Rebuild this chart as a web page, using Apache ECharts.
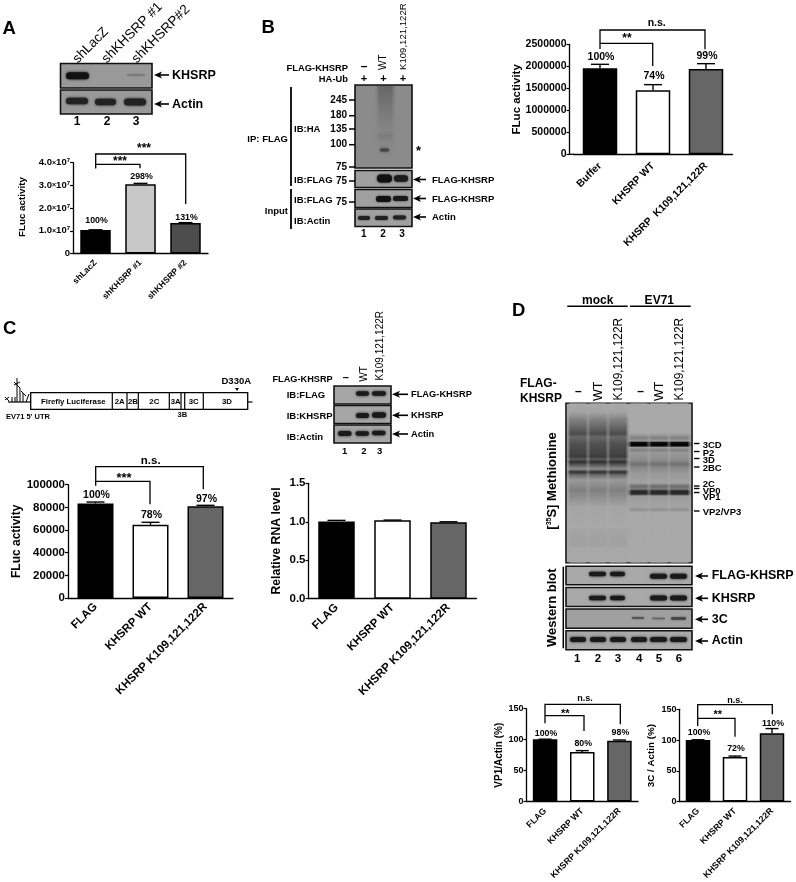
<!DOCTYPE html>
<html>
<head>
<meta charset="utf-8">
<title>KHSRP figure</title>
<script src="https://cdn.jsdelivr.net/npm/echarts@6/dist/echarts.min.js"></script>
<style>
html, body { margin: 0; padding: 0; background: #fff; }
#chart { width: 796px; height: 882px; }
</style>
</head>
<body>
<div id="chart"></div>
<script>
// panel A
const catA = ['shLacZ', 'shKHSRP #1', 'shKHSRP #2']
const valA = [10300000, 30500000, 13400000]
const errA = [10450000, 30900000, 13600000]
const pctA = ['100%', '298%', '131%']
// panel B
const catB = ['Buffer', 'KHSRP WT', 'KHSRP  K109,121,122R']
const valB = [1955000, 1455000, 1940000]
const errB = [2045000, 1583000, 2060000]
const pctB = ['100%', '74%', '99%']
// panel C, luciferase
const catC = ['FLAG', 'KHSRP WT', 'KHSRP K109,121,122R']
const valC = [83500, 64700, 80900]
const errC = [84700, 66800, 81800]
const pctC = ['100%', '78%', '97%']
// panel C, RNA
const valRna = [1.005, 1.02, 0.993]
const errRna = [1.018, 1.022, 1.0]
// panel D
const valVp1 = [100.5, 80, 98.4]
const errVp1 = [100.8, 82.3, 99.5]
const pctVp1 = ['100%', '80%', '98%']
const val3c = [100.2, 72.3, 111]
const err3c = [100.5, 74, 118.7]
const pct3c = ['100%', '72%', '110%']

const FONT = '"Liberation Sans", Arial, sans-serif'
const BLACK = '#000'
const GREY_D = '#666'

// bar panels
const panels = [
  { cats: catA, vals: valA, errs: errA, pcts: pctA, gaps: [9, 6.3, 5.5], colors: [BLACK, '#c8c8c8', '#4d4d4d'],
    left: 73, top: 162.7, width: 135, height: 90.8, max: 40000000, interval: 10000000, barW: 30.5, cap: 14,
    tickSize: 9.5, catSize: 8.5, catMargin: 8, pctSize: 8.8, name: 'FLuc activity', nameSize: 9.8, nameX: 22.7, sci: true },
  { cats: catB, vals: valB, errs: errB, pcts: pctB, gaps: [7, 8.7, 7.7], colors: [BLACK, '#fff', GREY_D],
    left: 573.5, top: 44.3, width: 159, height: 110, max: 2500000, interval: 500000, barW: 34.5, cap: 18, yOffset: 4,
    tickSize: 10.5, catSize: 10.3, catMargin: 10, pctSize: 10.5, name: 'FLuc activity', nameSize: 11.5, nameX: 517 },
  { cats: catC, vals: valC, errs: errC, pcts: pctC, gaps: [6.6, 7.3, 6.3], colors: [BLACK, '#fff', GREY_D],
    left: 68, top: 484.7, width: 165, height: 113.3, max: 100000, interval: 20000, barW: 36, cap: 18,
    tickSize: 11.5, catSize: 11.5, catMargin: 7, pctSize: 10.5, name: 'FLuc activity', nameSize: 12, nameX: 17 },
  { cats: catC, vals: valRna, errs: errRna, pcts: ['', '', ''], gaps: [0, 0, 0], colors: [BLACK, '#fff', GREY_D],
    left: 308.5, top: 483.3, width: 168, height: 115.4, max: 1.5, interval: 0.5, barW: 36.5, cap: 18,
    tickSize: 11.5, catSize: 11.5, catMargin: 7, pctSize: 12, name: 'Relative RNA level', nameSize: 12.2, nameX: 276.7, fixed: 1 },
  { cats: catC, vals: valVp1, errs: errVp1, pcts: pctVp1, gaps: [6, 7, 7], colors: [BLACK, '#fff', GREY_D],
    left: 526.5, top: 708.7, width: 111.5, height: 93, max: 150, interval: 50, barW: 24.5, cap: 13,
    tickSize: 9, catSize: 8.8, catMargin: 8, pctSize: 8.8, name: 'VP1/Actin (%)', nameSize: 10, nameX: 499 },
  { cats: catC, vals: val3c, errs: err3c, pcts: pct3c, gaps: [7, 7.3, 4.7], colors: [BLACK, '#fff', GREY_D],
    left: 679.5, top: 709.3, width: 111, height: 92.7, max: 150, interval: 50, barW: 24.5, cap: 13,
    tickSize: 9, catSize: 8.8, catMargin: 8, pctSize: 8.8, name: '3C / Actin (%)', nameSize: 9.8, nameX: 651.7 }
]

const grid = [], xAxis = [], yAxis = [], series = []
panels.forEach(function(p, i) {
  grid.push({ left: p.left, top: p.top, width: p.width, height: p.height })
  xAxis.push({
    type: 'category', gridIndex: i, data: p.cats,
    axisLine: { lineStyle: { color: BLACK, width: 1.3 } },
    axisTick: { alignWithLabel: true, length: 3, lineStyle: { color: BLACK, width: 1.2 } },
    axisLabel: { interval: 0, rotate: 45, margin: p.catMargin, color: BLACK, fontFamily: FONT, fontWeight: 'bold', fontSize: p.catSize }
  })
  yAxis.push({
    type: 'value', gridIndex: i, min: 0, max: p.max, interval: p.interval, offset: p.yOffset || 0,
    splitLine: { show: false },
    axisLine: { show: true, lineStyle: { color: BLACK, width: 1.3 } },
    axisTick: { show: true, length: 3, lineStyle: { color: BLACK, width: 1.2 } },
    axisLabel: {
      margin: 3, color: BLACK, fontFamily: FONT, fontWeight: 'bold', fontSize: p.tickSize,
      formatter: p.sci ? function(v) {
        return v === 0 ? '0' : '{n|' + (v / 1e7).toFixed(1) + '}{x|×}{n|10}{s|7}'
      } : function(v) { return p.fixed ? v.toFixed(p.fixed) : String(v) },
      rich: p.sci ? {
        n: { fontFamily: FONT, fontWeight: 'bold', fontSize: p.tickSize, color: BLACK },
        x: { fontFamily: FONT, fontWeight: 'bold', fontSize: 7, color: BLACK },
        s: { fontFamily: FONT, fontWeight: 'bold', fontSize: 6, color: BLACK, verticalAlign: 'top' }
      } : undefined
    }
  })
  series.push({
    type: 'bar', xAxisIndex: i, yAxisIndex: i, barWidth: p.barW, silent: true, animation: false,
    data: p.vals.map(function(v, k) {
      return { value: v, itemStyle: { color: p.colors[k], borderColor: BLACK, borderWidth: 1.5 } }
    })
  })
  // error bar and percent label, both from the value scale
  series.push({
    type: 'custom', xAxisIndex: i, yAxisIndex: i, silent: true, animation: false, z: 5,
    encode: { x: 0, y: [1, 2] },
    data: p.vals.map(function(v, k) { return [k, v, p.errs[k]] }),
    renderItem: function(params, api) {
      const base = api.coord([api.value(0), api.value(1)])
      const top = api.coord([api.value(0), api.value(2)])
      const k = params.dataIndex
      const ls = { stroke: BLACK, lineWidth: 1.4, fill: null }
      return {
        type: 'group',
        children: [
          { type: 'line', shape: { x1: base[0], y1: base[1], x2: top[0], y2: top[1] }, style: ls },
          { type: 'line', shape: { x1: top[0] - p.cap / 2, y1: top[1], x2: top[0] + p.cap / 2, y2: top[1] }, style: ls },
          { type: 'text', x: top[0] + 1, y: top[1] - p.gaps[k], style: {
            text: p.pcts[k], fill: BLACK, align: 'center', verticalAlign: 'middle',
            font: 'bold ' + p.pctSize + 'px ' + FONT
          } }
        ]
      }
    }
  })
})

// ---- drawing helpers for the annotations and blots
const g = []
function txt(text, x, y, size, o) {
  o = o || {}
  g.push({
    type: 'text', x: x, y: y, rotation: (o.rot || 0) * Math.PI / 180, silent: true, z: 20,
    style: {
      text: text, fill: BLACK, align: o.align || 'left', verticalAlign: 'middle', rich: o.rich,
      font: (o.weight || 'bold') + ' ' + size + 'px ' + FONT
    }
  })
}
function ln(x1, y1, x2, y2, w) {
  g.push({ type: 'line', silent: true, z: 15, shape: { x1: x1, y1: y1, x2: x2, y2: y2 }, style: { stroke: BLACK, lineWidth: w || 1.3 } })
}
function poly(points, w) {
  g.push({ type: 'polyline', silent: true, z: 15, shape: { points: points }, style: { stroke: BLACK, fill: null, lineWidth: w || 1.3 } })
}
// two stacked brackets above a bar chart
function bracket(x0, x1, x2, yOuter, yInner, legL, legOut, legIn) {
  poly([[x0, legL], [x0, yOuter], [x2, yOuter], [x2, legOut]])
  poly([[x0, yInner], [x1, yInner], [x1, legIn]])
}
function arrow(x1, x2, y) {
  ln(x1 + 5, y, x2, y, 1.6)
  g.push({ type: 'polygon', silent: true, z: 15, shape: { points: [[x1, y], [x1 + 8, y - 3.5], [x1 + 6, y], [x1 + 8, y + 3.5]] }, style: { fill: BLACK } })
}
function blot(x, y, w, h, fill) {
  g.push({ type: 'rect', silent: true, z: 1, shape: { x: x, y: y, width: w, height: h }, style: { fill: fill || '#a8a8a8', stroke: '#111', lineWidth: 1.6 } })
}
function band(x1, x2, yc, h, color, blur) {
  g.push({
    type: 'rect', silent: true, z: 3,
    shape: { x: x1, y: yc - h / 2, width: x2 - x1, height: h, r: h / 2 },
    style: { fill: color || '#1a1a1a', shadowBlur: blur === undefined ? 3 : blur, shadowColor: color || '#1a1a1a' }
  })
}
function grad(y0, y1, stops) {
  return {
    type: 'linear', x: 0, y: 0, x2: 0, y2: 1,
    colorStops: stops.map(function(s) {
      return { offset: Math.min(1, Math.max(0, (s[0] - y0) / (y1 - y0))), color: s[1] }
    })
  }
}
// soft edged gel lane
function lane(x1, x2, y0, y1, stops) {
  [[3.5, 0.25], [2.2, 0.3], [1, 0.5], [0, 1]].forEach(function(e) {
    g.push({
      type: 'rect', silent: true, z: 2, shape: { x: x1 - e[0], y: y0, width: x2 - x1 + 2 * e[0], height: y1 - y0 },
      style: { fill: grad(y0, y1, stops), opacity: e[1] }
    })
  })
}

// ---- panel A
txt('A', 2.5, 29, 18.5)
txt('shLacZ', 75, 61, 13.5, { rot: 45, weight: 'normal' })
txt('shKHSRP #1', 104, 61, 13.5, { rot: 45, weight: 'normal' })
txt('shKHSRP#2', 134, 61, 13.5, { rot: 45, weight: 'normal' })
blot(60.5, 63.5, 91.5, 24.5, '#999')
blot(60.5, 90, 91.5, 24, '#999')
band(66, 89, 75.7, 7, '#111')
band(127, 145, 75, 1.5, '#777', 2)
band(66, 88, 101, 6.5, '#222')
band(95, 116, 102, 6.5, '#222')
band(124, 146, 102, 7, '#222')
arrow(154, 169, 75)
arrow(154, 169, 104)
txt('KHSRP', 172, 76, 12.5)
txt('Actin', 172, 105, 12.5)
txt('1', 77, 122, 12, { align: 'center' })
txt('2', 107, 122, 12, { align: 'center' })
txt('3', 136, 122, 12, { align: 'center' })
bracket(95.7, 140, 185.7, 154, 164.3, 168.5, 204, 168.3)
txt('***', 144, 149, 12, { align: 'center' })
txt('***', 120, 162, 12, { align: 'center' })

// ---- panel B blots
txt('B', 261.5, 28, 18.5)
txt('FLAG-KHSRP', 348, 68, 9.4, { align: 'right' })
txt('HA-Ub', 348, 79, 9.4, { align: 'right' })
txt('–', 364, 66.5, 12, { align: 'center' })
txt('+', 364, 79, 11, { align: 'center' })
txt('+', 383.5, 79, 11, { align: 'center' })
txt('+', 403, 79, 11, { align: 'center' })
txt('WT', 383, 70, 10, { rot: 90, weight: 'normal' })
txt('K109,121,122R', 403, 70, 9.6, { rot: 90, weight: 'normal' })
blot(355, 85, 57, 83, '#8b8b8b')
blot(355, 170.5, 57, 17, '#a0a0a0')
blot(355, 189.5, 57, 18, '#a0a0a0')
blot(355, 209, 57, 17.5, '#a0a0a0')
lane(379, 392, 86, 160, [[86, '#666'], [95, '#6e6e6e'], [118, '#7e7e7e'], [130, '#868686'], [136, '#7c7c7c'], [142, '#868686'], [160, '#8b8b8b']])
band(380, 389, 150, 3, '#444', 3)
band(377, 392, 178.5, 8, '#111', 2.5)
band(394, 408, 178.5, 6.5, '#1a1a1a', 2.5)
band(376, 391, 199, 6, '#111', 2)
band(393, 408, 198.5, 5, '#1a1a1a', 2)
band(358, 370, 218, 4, '#222', 2)
band(375, 388, 218, 4, '#222', 2)
band(393, 406, 217.5, 4, '#222', 2)
ln(291, 87, 291, 186, 1.8)
ln(291, 189, 291, 229, 1.8)
txt('IP: FLAG', 288, 139, 9.5, { align: 'right' })
txt('Input', 288, 211, 9.5, { align: 'right' })
txt('IB:HA', 294, 129, 9.5)
txt('IB:FLAG', 294, 180.5, 9.5)
txt('IB:FLAG', 294, 200, 9.5)
txt('IB:Actin', 294, 221, 9.5)
;[['245', 100], ['180', 115.7], ['135', 129], ['100', 144.7], ['75', 167], ['75', 181], ['75', 202]].forEach(function(m) {
  txt(m[0], 347, m[1], 10, { align: 'right' })
  ln(349, m[1], 355, m[1], 1.5)
})
txt('*', 416, 151, 13)
arrow(413, 426, 179.5)
arrow(413, 426, 198.5)
arrow(413, 426, 217)
txt('FLAG-KHSRP', 432, 180, 9.5)
txt('FLAG-KHSRP', 432, 199, 9.5)
txt('Actin', 432, 217, 9.5)
txt('1', 363.7, 234, 10, { align: 'center' })
txt('2', 383, 234, 10, { align: 'center' })
txt('3', 402, 234, 10, { align: 'center' })

// ---- panel B chart notes
ln(569, 154.3, 574, 154.3, 1.3)
bracket(600, 652.7, 705, 30, 43.3, 49, 49.3, 66)
txt('**', 627, 39, 12, { align: 'center' })
txt('n.s.', 656.7, 23, 10.5, { align: 'center' })

// ---- panel C schematic
txt('C', 3, 329, 18.5)
g.push({ type: 'rect', silent: true, z: 3, shape: { x: 30.7, y: 392.7, width: 217, height: 16.6 }, style: { fill: '#fff', stroke: BLACK, lineWidth: 1.3 } })
;[112.3, 127, 138.3, 169.3, 181, 184.7, 203.3].forEach(function(x) { ln(x, 392.7, x, 409.3, 1.2) })
;[['Firefly Luciferase', 73.3], ['2A', 119.7], ['2B', 133], ['2C', 154.3], ['3A', 175.7], ['3C', 193.7], ['3D', 227]].forEach(function(s) {
  txt(s[0], s[1], 401.5, 7.8, { align: 'center' })
})
txt('3B', 182.3, 415, 7.5, { align: 'center' })
txt('D330A', 236.3, 381, 9.5, { align: 'center' })
g.push({ type: 'polygon', silent: true, z: 15, shape: { points: [[235, 388], [239, 388], [237, 391]] }, style: { fill: BLACK } })
txt("EV71 5' UTR", 6, 416.7, 7.5)
ln(8, 402, 31, 402, 1.2)
ln(248, 402, 252.5, 402, 1.2)
ln(17, 378, 17, 402, 1)
ln(14, 385, 20, 382, 1)
ln(14, 382, 20, 388, 1)
ln(20, 402, 20, 388, 1)
ln(23, 402, 23, 393, 1)
ln(21, 391, 26, 396, 1)
ln(26, 402, 29, 394, 1)
ln(5, 400, 9, 397, 1)
ln(5, 397, 9, 401, 1)
ln(12, 402, 12, 397, 1)
ln(15, 402, 15, 397, 1)
bracket(95.7, 150, 203.3, 466.7, 481.3, 485.7, 489.3, 504.3)
txt('***', 124, 478, 13, { align: 'center' })
txt('n.s.', 150.7, 460.7, 11.5, { align: 'center' })

// ---- panel C blots
txt('FLAG-KHSRP', 332.7, 379, 9.2, { align: 'right' })
txt('–', 345.7, 377.5, 11, { align: 'center' })
txt('WT', 364, 381.7, 10, { rot: 90, weight: 'normal' })
txt('K109,121,122R', 380.7, 380.5, 10, { rot: 90, weight: 'normal' })
blot(334, 386, 57, 18, '#a6a6a6')
blot(334, 405.5, 57, 18, '#a6a6a6')
blot(334, 425, 57, 18, '#a6a6a6')
band(356, 369, 393.5, 4.5)
band(372, 386, 393.5, 4.5)
band(356, 369, 415.5, 5)
band(372, 386, 415, 5.5)
band(338, 351.5, 433.5, 5)
band(355.5, 369, 433.5, 4.5)
band(372, 385.5, 433, 4.5)
arrow(392, 408, 394.3)
arrow(392, 408, 415.3)
arrow(392, 408, 434)
txt('IB:FLAG', 286.7, 395.7, 9.5)
txt('IB:KHSRP', 286.7, 416, 9.5)
txt('IB:Actin', 286.7, 437.7, 9.5)
txt('FLAG-KHSRP', 411, 394.5, 9.3)
txt('KHSRP', 411, 415.5, 9.3)
txt('Actin', 411, 434.5, 9.3)
txt('1', 344.7, 451, 9.5, { align: 'center' })
txt('2', 364, 451, 9.5, { align: 'center' })
txt('3', 379.7, 451, 9.5, { align: 'center' })

// ---- panel D gel
txt('D', 512, 311, 18.5)
txt('mock', 597.7, 301, 12, { align: 'center' })
txt('EV71', 659.3, 301, 12, { align: 'center' })
ln(567.3, 306.3, 627.7, 306.3, 1.4)
ln(630, 306.3, 690.7, 306.3, 1.4)
txt('FLAG-', 520, 384, 12)
txt('KHSRP', 520, 399, 12)
;[[578.3, '–'], [640.7, '–']].forEach(function(s) { txt(s[1], s[0], 392, 12, { align: 'center' }) })
;[598.3, 660].forEach(function(x) { txt('WT', x, 401, 12.5, { rot: 90, weight: 'normal' }) })
;[618.3, 680].forEach(function(x) { txt('K109,121,122R', x, 400.5, 11.9, { rot: 90, weight: 'normal' }) })
blot(566, 403.3, 126, 159.4, '#a9a9a9')
const stopsMock = [[403.5, '#a9a9a9'], [412, '#a4a4a4'], [420, '#808080'], [430, '#5c5c5c'], [434, '#4c4c4c'], [437, '#686868'], [444, '#505050'], [453, '#444'], [457, '#3c3c3c'], [459, '#5c5c5c'], [462, '#2e2e2e'], [465, '#5c5c5c'], [469, '#8e8e8e'], [472, '#2e2e2e'], [475, '#6c6c6c'], [480, '#9a9a9a'], [490, '#808080'], [497, '#8e8e8e'], [507, '#a5a5a5'], [527, '#a8a8a8'], [530, '#a4a4a4'], [545, '#a1a1a1'], [549, '#a8a8a8'], [562.5, '#a9a9a9']]
const stopsEv71 = [[403.5, '#a9a9a9'], [433, '#a9a9a9'], [438, '#808080'], [441, '#999'], [442.5, '#111'], [444.5, '#000'], [446, '#111'], [447.5, '#999'], [450, '#808080'], [453, '#999'], [460, '#8c8c8c'], [464, '#707070'], [468, '#8a8a8a'], [473, '#989898'], [483, '#a2a2a2'], [486, '#6c6c6c'], [489, '#7c7c7c'], [491, '#2a2a2a'], [494, '#2a2a2a'], [496, '#9a9a9a'], [507, '#a4a4a4'], [510, '#8e8e8e'], [512, '#a8a8a8'], [562.5, '#a9a9a9']]
;[[570, 586], [590, 606], [610, 626]].forEach(function(l) { lane(l[0], l[1], 403.5, 562.5, stopsMock) })
;[[631, 647], [651, 667], [671, 688]].forEach(function(l) { lane(l[0], l[1], 403.5, 562.5, stopsEv71) })
;[['3CD', 445, 443.5], ['P2', 453, 451.5], ['3D', 460.5, 458.5], ['2BC', 468, 467], ['2C', 484, 486], ['VP0', 491, 488.5], ['VP1', 497.5, 492.5], ['VP2/VP3', 512.5, 511]].forEach(function(s) {
  txt(s[0], 702.7, s[1], 9.5)
  ln(694, s[2], 699.5, s[2], 1.4)
})
txt('[{s|35}S] Methionine', 552, 481, 13, { rot: 90, align: 'center', rich: { s: { font: 'bold 7px ' + FONT, verticalAlign: 'top' } } })
txt('Western blot', 552, 607.7, 13, { rot: 90, align: 'center' })
ln(563.3, 566.7, 563.3, 648.3, 1.5)
blot(566, 566.2, 126, 18.5, '#a9a9a9')
blot(566, 587.5, 126, 19, '#a9a9a9')
blot(566, 609, 126, 19.3, '#a0a0a0')
blot(566, 630.7, 126, 19, '#a9a9a9')
;[[589, 606], [610, 625]].forEach(function(l) { band(l[0], l[1], 574, 4.5); band(l[0], l[1], 598, 4.5) })
;[[650, 667], [670, 687]].forEach(function(l) { band(l[0], l[1], 576.3, 5); band(l[0], l[1], 598, 5) })
band(632, 644, 618, 2, '#555', 2)
band(652, 665, 618.5, 1.5, '#666', 2)
band(671, 686, 618.5, 2.5, '#444', 2)
;[[570, 586], [590, 606], [610, 626], [631, 647], [650, 667], [670, 687]].forEach(function(l) { band(l[0], l[1], 639.5, 5) })
arrow(695, 708, 576)
arrow(695, 708, 598.3)
arrow(695, 708, 619.3)
arrow(695, 708, 641)
txt('FLAG-KHSRP', 711.7, 576, 12.5)
txt('KHSRP', 711.7, 598.3, 12.5)
txt('3C', 711.7, 619.5, 12.5)
txt('Actin', 711.7, 641, 12.5)
;[[577.3, '1'], [598, '2'], [618, '3'], [639.3, '4'], [659, '5'], [679, '6']].forEach(function(s) { txt(s[1], s[0], 659, 11.5, { align: 'center' }) })

// ---- panel D chart notes
bracket(545, 584, 620.3, 704.3, 715.7, 723.3, 724.3, 731)
txt('**', 565.3, 713.5, 11, { align: 'center' })
txt('n.s.', 585, 699, 9, { align: 'center' })
bracket(697.7, 735, 772.3, 704.7, 718.3, 726, 714.3, 736.7)
txt('**', 717.7, 715, 11, { align: 'center' })
txt('n.s.', 735, 701, 9, { align: 'center' })

// axis titles
panels.forEach(function(p) {
  txt(p.name, p.nameX, p.top + p.height / 2 + (p.sci ? -1 : 0), p.nameSize, { rot: 90, align: 'center' })
})

const myChart = echarts.init(document.getElementById('chart'), null, { renderer: 'canvas' })
myChart.setOption({
  animation: false,
  backgroundColor: '#fff',
  grid: grid,
  xAxis: xAxis,
  yAxis: yAxis,
  series: series,
  graphic: { elements: g }
})
</script>
</body>
</html>
